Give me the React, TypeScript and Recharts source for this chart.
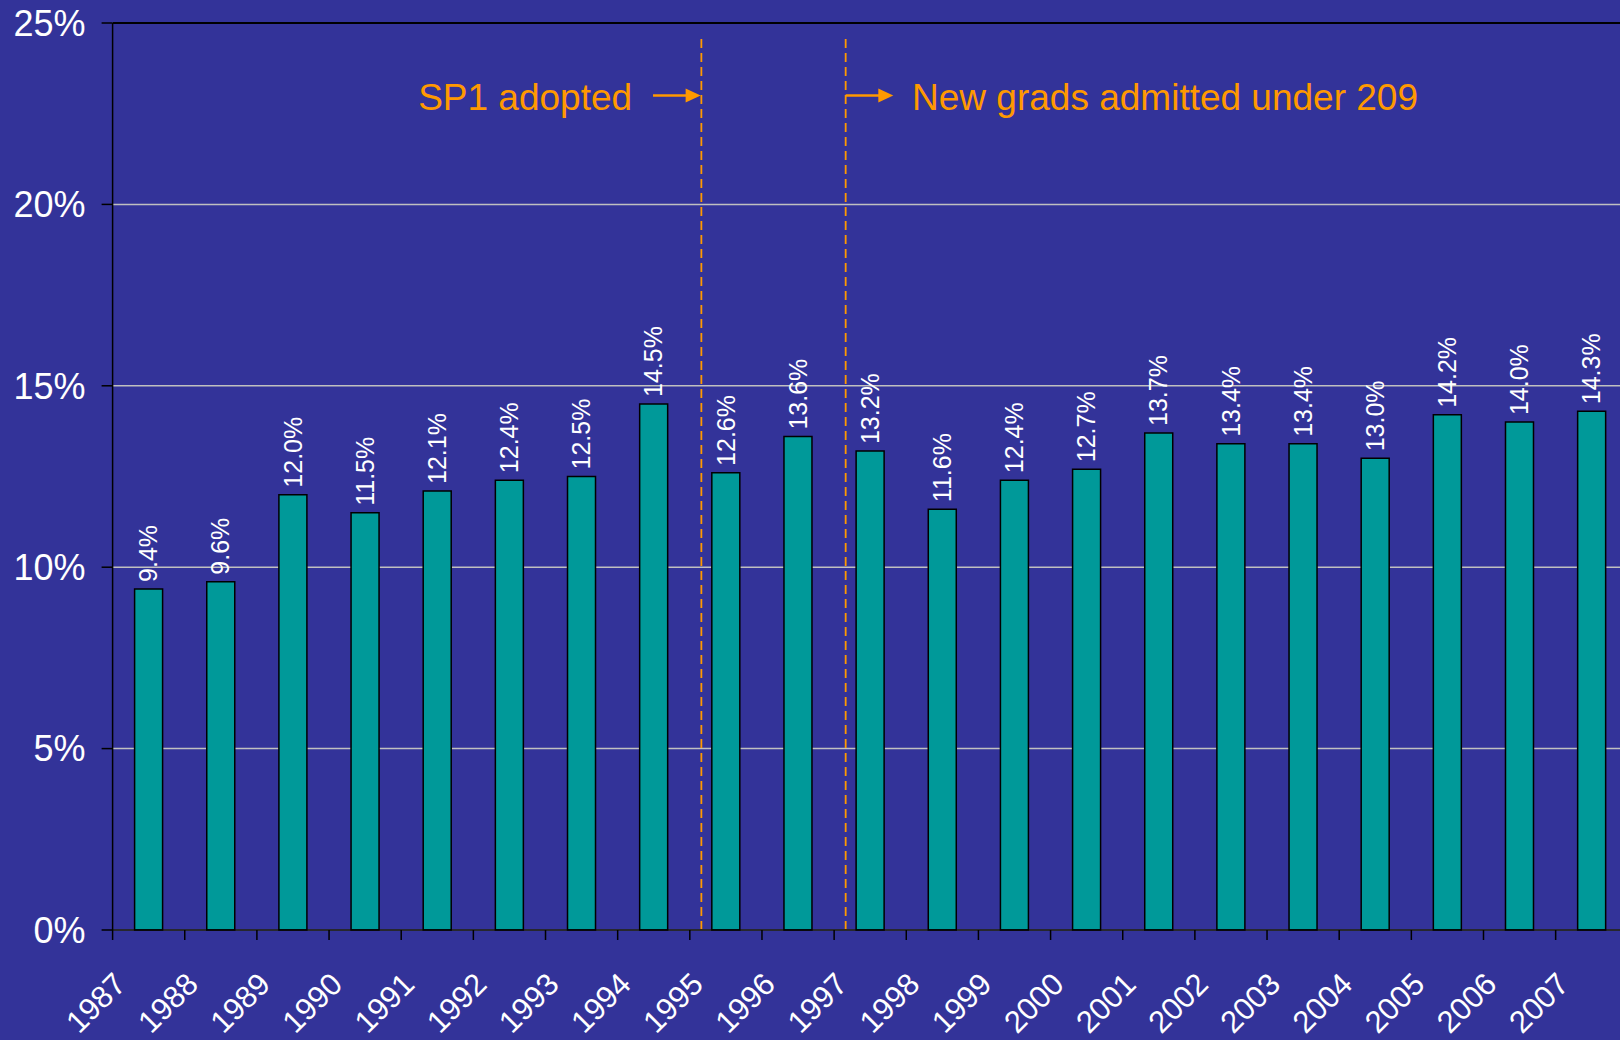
import {
  BarChart,
  Bar,
  XAxis,
  YAxis,
  CartesianGrid,
  ReferenceLine,
  ReferenceDot,
  LabelList,
} from "recharts";

document.body.style.margin = "0";

// data
const years = [
  "1987", "1988", "1989", "1990", "1991", "1992", "1993", "1994", "1995", "1996", "1997",
  "1998", "1999", "2000", "2001", "2002", "2003", "2004", "2005", "2006", "2007",
];
const shares = [
  9.4, 9.6, 12.0, 11.5, 12.1, 12.4, 12.5, 14.5, 12.6, 13.6, 13.2,
  11.6, 12.4, 12.7, 13.7, 13.4, 13.4, 13.0, 14.2, 14.0, 14.3,
];
const yTicks = [0, 5, 10, 15, 20, 25];

const data = years.map((year, i) => ({ year, share: shares[i] }));

// layout
const FONT = "'Liberation Sans', Arial, sans-serif";
const BG = "#333399";
const ORANGE = "#FF9900";
const CHART_W = 1700;
const CHART_H = 1040;
const Y_W = 112.6;
const MARGIN = { top: 23, right: 72.2, left: 0, bottom: 0 };
const BAND = (CHART_W - Y_W - MARGIN.right - MARGIN.left) / years.length;

// policy markers: the dashed lines sit a bit left of the middle of their year
const policyYears = ["1995", "1997"];
const markerShift = -0.34; // in category widths
const arrowY = 23;
const textY = 22.6;

function YearTick(props: any) {
  const { x, y, payload } = props;
  const bx = x - BAND / 2;
  const tx = x - 21;
  const ty = y + 56;
  return (
    <g>
      <line x1={bx} x2={bx} y1={y} y2={y + 10} stroke="#000" strokeWidth={1.5} />
      <text
        x={tx}
        y={ty}
        textAnchor="end"
        transform={`rotate(-45, ${tx}, ${ty})`}
        fill="#fff"
        fontSize={31}
        fontFamily={FONT}
      >
        {payload.value}
      </text>
    </g>
  );
}

function ValueLabel(props: any) {
  const { x, y, width, value } = props;
  const cx = x + width / 2;
  const cy = y - 7;
  return (
    <text
      x={cx}
      y={cy}
      dy="0.35em"
      textAnchor="start"
      transform={`rotate(-90, ${cx}, ${cy})`}
      fill="#fff"
      fontSize={25}
      fontFamily={FONT}
    >
      {`${Number(value).toFixed(1)}%`}
    </text>
  );
}

const dashShape = (p: any) => {
  const x = p.x1 + markerShift * BAND;
  return (
    <line
      x1={x}
      x2={x}
      y1={p.y1}
      y2={p.y2}
      stroke={ORANGE}
      strokeWidth={1.8}
      strokeDasharray="9 5"
    />
  );
};

const arrowShape = (from: number, to: number) => (p: any) => {
  const x1 = p.cx + from * BAND;
  const x2 = p.cx + to * BAND;
  const y = p.cy;
  return (
    <g>
      <line x1={x1} y1={y} x2={x2 - 12} y2={y} stroke={ORANGE} strokeWidth={2.5} />
      <polygon points={`${x2},${y} ${x2 - 15},${y - 7} ${x2 - 15},${y + 7}`} fill={ORANGE} />
    </g>
  );
};

const noteShape = (anchor: "start" | "end", shift: number, text: string) => (p: any) => (
  <text
    x={p.cx + shift * BAND}
    y={p.cy}
    textAnchor={anchor}
    fill={ORANGE}
    fontSize={37}
    fontFamily={FONT}
  >
    {text}
  </text>
);

export default function App() {
  return (
    <div style={{ width: 1620, height: 1040, overflow: "hidden", background: BG }}>
      <BarChart width={CHART_W} height={CHART_H} data={data} margin={MARGIN}>
        <CartesianGrid vertical={false} stroke="#C0C0C0" strokeWidth={1.5} />
        <XAxis
          dataKey="year"
          interval={0}
          tickSize={0}
          tickMargin={0}
          height={110}
          axisLine={{ stroke: "#000", strokeWidth: 1.5 }}
          tickLine={false}
          tick={<YearTick />}
        />
        <YAxis
          domain={[0, 25]}
          ticks={yTicks}
          width={Y_W}
          tickSize={11}
          tickMargin={16}
          tickFormatter={(v) => `${v}%`}
          axisLine={{ stroke: "#000", strokeWidth: 1.5 }}
          tickLine={{ stroke: "#000", strokeWidth: 1.5 }}
          tick={{ fill: "#fff", fontSize: 36, fontFamily: FONT }}
        />
        <Bar
          dataKey="share"
          fill="#009999"
          stroke="#000"
          strokeWidth={1.5}
          barSize={28}
          isAnimationActive={false}
        >
          <LabelList dataKey="share" content={<ValueLabel />} />
        </Bar>
        <ReferenceLine y={25} stroke="#000" strokeWidth={2} />
        {policyYears.map((yr) => (
          <ReferenceLine
            key={yr}
            segment={[
              { x: yr, y: 0 },
              { x: yr, y: 24.56 },
            ]}
            shape={dashShape}
          />
        ))}
        <ReferenceDot x="1995" y={arrowY} r={0} shape={arrowShape(-1.01, -0.35)} />
        <ReferenceDot x="1997" y={arrowY} r={0} shape={arrowShape(-0.34, 0.32)} />
        <ReferenceDot x="1994" y={textY} r={0} shape={noteShape("end", -0.3, "SP1 adopted")} />
        <ReferenceDot
          x="1998"
          y={textY}
          r={0}
          shape={noteShape("start", -0.42, "New grads admitted under 209")}
        />
      </BarChart>
    </div>
  );
}
